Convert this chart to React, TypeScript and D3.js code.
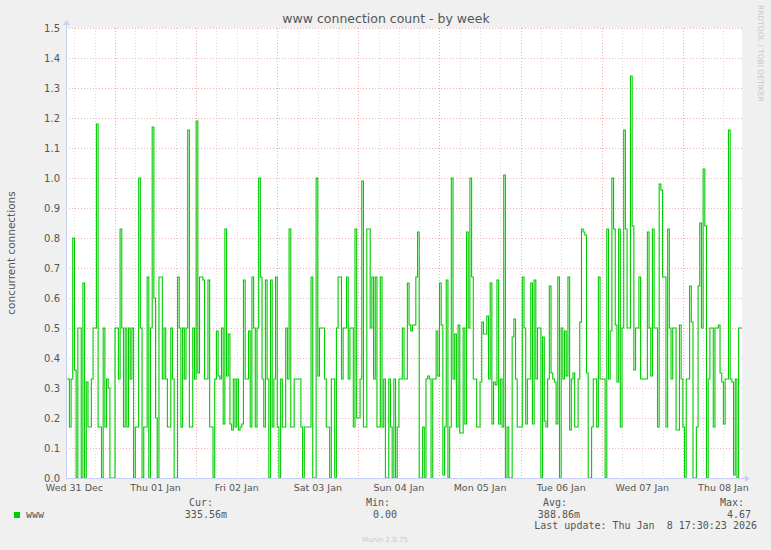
import React, { useEffect, useRef } from 'react';
import * as d3 from 'd3';

// 30-minute averages, starting Wed 31 Dec 09:30 (as drawn by munin)
const seriesStart = Date.UTC(2025, 11, 31, 9, 30);
const stepMinutes = 30;

const wwwValues = [
    0.33, 0.33, 0.17, 0.33, 0.8, 0.36, 0, 0.5, 0.5, 0,
    0.65, 0, 0.32, 0.17, 0.17, 0.33, 0.5, 0.5, 1.18, 0.17,
    0.17, 0, 0.5, 0.17, 0.33, 0.3, 0, 0, 0, 0.5,
    0.5, 0.33, 0.83, 0.5, 0.17, 0.5, 0.17, 0.5, 0.33, 0.5,
    0, 0.17, 0.17, 1.0, 0.5, 0, 0.17, 0.17, 0.67, 0,
    0.5, 1.17, 0.6, 0.2, 0, 0.67, 0.67, 0.33, 0.5, 0.33,
    0.17, 0.17, 0.5, 0.33,
    0, 0, 0.67, 0.5, 0.17, 0.5, 0.33, 0.5, 1.16, 0.17,
    0.17, 0.5, 0.33, 1.19, 0.35, 0.67, 0.67, 0.66, 0.33, 0.33,
    0.66, 0.17, 0.17, 0, 0.33, 0.49, 0.34, 0.33, 0.5, 0.18,
    0.83, 0.34, 0.48, 0.18, 0.16, 0.33, 0.17, 0.33, 0.16, 0.17,
    0.18, 0.66, 0.33, 0.33, 0.49, 0.17, 0.67, 0.5, 0.17, 0.5,
    1.0, 0.67, 0.33, 0.17, 0.66, 0.33, 0, 0.66, 0.17, 0.33,
    0.67, 0.17, 0, 0.33, 0.17, 0.17, 0.5, 0.33, 0.83, 0.17,
    0.17, 0.33,
    0.33, 0.33, 0.33, 0.17, 0, 0.17, 0.17, 0.17, 0.17, 0.67,
    0, 0, 1.0, 0.34, 0.5, 0.5, 0.5, 0.33, 0.17, 0.17,
    0, 0.33, 0.33, 0, 0.5, 0.67, 0.67, 0.33, 0.5, 0.5,
    0.67, 0.33, 0.5, 0.5, 0.17, 0.83, 0.2, 0.2, 0.33, 0.99,
    0.17, 0.17, 0.83, 0.83, 0.5, 0.67, 0.33, 0.67, 0.17, 0.17,
    0.67, 0.17, 0.33, 0, 0, 0.33, 0.17, 0, 0.33, 0,
    0.17, 0.33, 0.33, 0.5, 0.33, 0.33, 0.65, 0.51,
    0.49, 0.51, 0.51, 0.67, 0.82, 0, 0, 0.17, 0, 0.33,
    0.34, 0.33, 0, 0.33, 0.33, 0.49, 0.34, 0.65, 0.51, 0.01,
    0.17, 0.66, 0, 0.17, 1.0, 0.33, 0.48, 0.17, 0.51, 0.15,
    0.15, 0.5, 0.18, 0.82, 0.5, 1.0, 0.67, 0.33, 0.33, 0.17,
    0.17, 0.32, 0.52, 0.48, 0.48, 0.54, 0.33, 0.65, 0.18, 0.32,
    0.31, 0.66, 0.18, 0.33, 0.17, 1.01, 0, 0.17, 0, 0,
    0.47, 0.53, 0.33, 0.17, 0.17, 0.17, 0.67, 0.5,
    0.18, 0.33, 0.33, 0.65, 0.18, 0.66, 0.33, 0.5, 0.5, 0,
    0.47, 0.19, 0.17, 0.33, 0.64, 0.35, 0.33, 0.32, 0.18, 0.67,
    0, 0.5, 0.33, 0.49, 0.34, 0.67, 0.16, 0.33, 0.35, 0.17,
    0.17, 0.33, 0.52, 0.83, 0.82, 0.81, 0.35, 0, 0, 0.17,
    0.33, 0.33, 0.17, 0.67, 0.33, 0.33, 0.33, 0, 0.83, 0.33,
    0.49, 1.0, 0.83, 0.51, 0.32, 0.83, 0.17, 0.5, 1.16, 0.83,
    0.5, 0.5, 1.34, 0.84, 0.36, 0.5, 0.5, 0.67,
    0.33, 0.33, 0.33, 0.33, 0.82, 0.5, 0.34, 0.83, 0.5, 0.5,
    0.17, 0.98, 0.96, 0.67, 0.67, 0.17, 0.83, 0.5, 0.33, 0.5,
    0.5, 0.16, 0.16, 0.51, 0.33, 0.17, 0, 0.33, 0.33, 0.64,
    0.52, 0, 0, 0.17, 0.64, 0.85, 0.5, 1.03, 0.84, 0,
    0.33, 0.5, 0.5, 0.17, 0.5, 0.5, 0.51, 0.35, 0.32, 0.18,
    0.33, 0.33, 1.16, 0.33, 0.32, 0.01, 0.33, 0, 0.5, 0.5,
];

const yTicks = [0, 0.1, 0.2, 0.3, 0.4, 0.5, 0.6, 0.7, 0.8, 0.9, 1.0, 1.1, 1.2, 1.3, 1.4, 1.5];

const legendLabels = ['Cur:', 'Min:', 'Avg:', 'Max:'];
const legendValues = ['335.56m', '0.00', '388.86m', '4.67'];
const lastUpdate = 'Last update: Thu Jan  8 17:30:23 2026';

const W = 771;
const H = 550;

const App = () => {
    const svgRef = useRef<SVGSVGElement>(null);

    useEffect(() => {
        if (!svgRef.current) return;
        const svg = d3.select(svgRef.current);
        svg.selectAll('*').remove();

        const margin = { top: 28, right: 29, bottom: 72, left: 66 };
        const innerW = W - margin.left - margin.right;
        const innerH = H - margin.top - margin.bottom;

        const sans = 'DejaVu Sans, sans-serif';
        const mono = 'DejaVu Sans Mono, monospace';

        svg.append('rect').attr('width', W).attr('height', H).attr('fill', '#f0f0f0');

        const points = wwwValues.map((v, i) => ({ t: new Date(seriesStart + i * stepMinutes * 60000), v }));
        const end = new Date(seriesStart + wwwValues.length * stepMinutes * 60000);
        points.push({ t: end, v: wwwValues[wwwValues.length - 1] });

        const x = d3.scaleUtc().domain([new Date(seriesStart), end]).range([0, innerW]);
        const y = d3.scaleLinear().domain([0, 1.5]).range([innerH, 0]);

        const g = svg.append('g').attr('transform', `translate(${margin.left},${margin.top})`);

        g.append('rect').attr('width', innerW).attr('height', innerH).attr('fill', '#ffffff');

        // minor vertical grid every 6 hours
        const minor = x.ticks(d3.utcHour.every(6) as any);
        g.append('g').selectAll('line')
            .data(minor)
            .join('line')
            .attr('x1', d => Math.round(x(d)) + 0.5)
            .attr('x2', d => Math.round(x(d)) + 0.5)
            .attr('y1', 0)
            .attr('y2', innerH)
            .attr('stroke', '#d8d8d8')
            .attr('stroke-dasharray', '1,2');

        // horizontal grid
        g.append('g').selectAll('line')
            .data(yTicks.filter(d => d > 0))
            .join('line')
            .attr('x1', 0)
            .attr('x2', innerW)
            .attr('y1', d => Math.round(y(d)) + 0.5)
            .attr('y2', d => Math.round(y(d)) + 0.5)
            .attr('stroke', '#f0b6b6')
            .attr('stroke-dasharray', '1,2');

        // major vertical grid at midnight
        const major = x.ticks(d3.utcDay.every(1) as any);
        g.append('g').selectAll('line')
            .data(major)
            .join('line')
            .attr('x1', d => Math.round(x(d)) + 0.5)
            .attr('x2', d => Math.round(x(d)) + 0.5)
            .attr('y1', 0)
            .attr('y2', innerH + 3)
            .attr('stroke', '#f0a8a8')
            .attr('stroke-dasharray', '1,2');

        // the series
        const line = d3.line<{ t: Date; v: number }>()
            .x(d => x(d.t))
            .y(d => y(d.v))
            .curve(d3.curveStepAfter);

        g.append('path')
            .datum(points)
            .attr('fill', 'none')
            .attr('stroke', '#00cc00')
            .attr('stroke-width', 1.1)
            .attr('d', line);

        // axes
        const axisColor = '#c8d0f2';
        g.append('line')
            .attr('x1', 0.5).attr('x2', 0.5)
            .attr('y1', -4).attr('y2', innerH)
            .attr('stroke', axisColor);
        g.append('path')
            .attr('d', `M-3,-3 L0.5,-8 L4,-3 Z`)
            .attr('fill', axisColor);
        g.append('line')
            .attr('x1', 0).attr('x2', innerW + 4)
            .attr('y1', innerH + 0.5).attr('y2', innerH + 0.5)
            .attr('stroke', axisColor);
        g.append('path')
            .attr('d', `M${innerW + 3},${innerH - 3} L${innerW + 8},${innerH + 0.5} L${innerW + 3},${innerH + 4} Z`)
            .attr('fill', axisColor);

        // y tick labels
        g.append('g').selectAll('text')
            .data(yTicks)
            .join('text')
            .attr('x', -6)
            .attr('y', d => y(d))
            .attr('dy', '0.35em')
            .attr('text-anchor', 'end')
            .attr('font-family', sans)
            .attr('font-size', 10)
            .attr('fill', '#555')
            .text(d => d3.format('.1f')(d));

        // x labels at noon of each day
        const noons = d3.utcDay.range(new Date(seriesStart), end).map(d => d3.utcHour.offset(d, 12));
        noons.unshift(d3.utcHour.offset(d3.utcDay.floor(new Date(seriesStart)), 12));
        const fmt = d3.utcFormat('%a %d %b');
        g.append('g').selectAll('text')
            .data(noons.filter(d => d >= new Date(seriesStart) && d <= end))
            .join('text')
            .attr('x', d => x(d))
            .attr('y', innerH + 13)
            .attr('text-anchor', 'middle')
            .attr('font-family', sans)
            .attr('font-size', 9.5)
            .attr('fill', '#555')
            .text(d => fmt(d));

        // title
        svg.append('text')
            .attr('x', 386)
            .attr('y', 23)
            .attr('text-anchor', 'middle')
            .attr('font-family', sans)
            .attr('font-size', 12.5)
            .attr('fill', '#555')
            .text('www connection count - by week');

        // y axis label
        svg.append('text')
            .attr('transform', `translate(15,253) rotate(-90)`)
            .attr('text-anchor', 'middle')
            .attr('font-family', sans)
            .attr('font-size', 10.5)
            .attr('fill', '#555')
            .text('concurrent connections');

        // rrdtool watermark
        svg.append('text')
            .attr('transform', `translate(758,5) rotate(90)`)
            .attr('font-family', sans)
            .attr('font-size', 7.5)
            .attr('fill', '#c8c8c8')
            .text('RRDTOOL / TOBI OETIKER');

        // legend
        svg.append('rect')
            .attr('x', 14).attr('y', 512)
            .attr('width', 6).attr('height', 6)
            .attr('fill', '#00cc00');
        svg.append('text')
            .attr('x', 26).attr('y', 518)
            .attr('font-family', mono)
            .attr('font-size', 10)
            .attr('fill', '#555')
            .text('www');

        const labelEnds = [213, 390, 567, 744];
        const valueEnds = [227, 397, 580, 751];
        svg.append('g').selectAll('text')
            .data(legendLabels)
            .join('text')
            .attr('x', (d, i) => labelEnds[i])
            .attr('y', 506)
            .attr('text-anchor', 'end')
            .attr('font-family', mono)
            .attr('font-size', 10)
            .attr('fill', '#555')
            .text(d => d);
        svg.append('g').selectAll('text')
            .data(legendValues)
            .join('text')
            .attr('x', (d, i) => valueEnds[i])
            .attr('y', 518)
            .attr('text-anchor', 'end')
            .attr('font-family', mono)
            .attr('font-size', 10)
            .attr('fill', '#555')
            .text(d => d);

        svg.append('text')
            .attr('x', 757).attr('y', 529)
            .attr('text-anchor', 'end')
            .attr('font-family', mono)
            .attr('font-size', 10)
            .attr('fill', '#555')
            .attr('xml:space', 'preserve')
            .style('white-space', 'pre')
            .text(lastUpdate);

        svg.append('text')
            .attr('x', 385).attr('y', 542)
            .attr('text-anchor', 'middle')
            .attr('font-family', sans)
            .attr('font-size', 7)
            .attr('fill', '#c8c8c8')
            .text('Munin 2.0.75');
    }, []);

    return (
        <div style={{ position: 'absolute', left: 0, top: 0 }}>
            <svg ref={svgRef} width={W} height={H} style={{ display: 'block' }} />
        </div>
    );
};

export default App;
